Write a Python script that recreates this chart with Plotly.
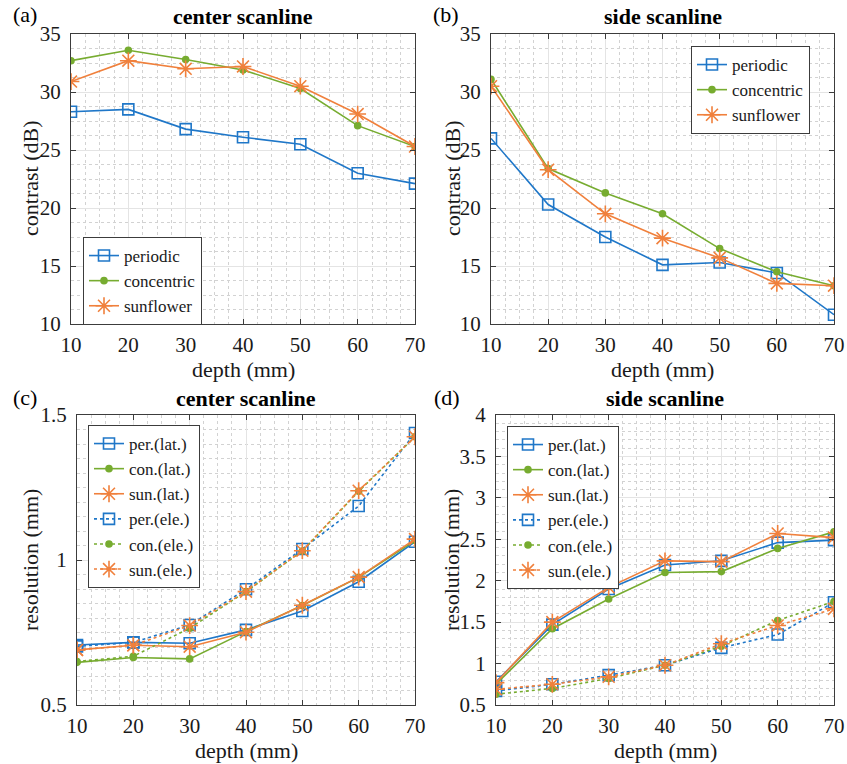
import plotly.graph_objects as go

# Depths of the scanline measurements (mm)
depth = [10, 20, 30, 40, 50, 60, 70]

# (a) contrast, center scanline (dB)
a_periodic = [28.3, 28.5, 26.8, 26.1, 25.5, 23.0, 22.1]
a_concentric = [32.7, 33.6, 32.8, 31.9, 30.3, 27.1, 25.3]
a_sunflower = [30.9, 32.7, 32.0, 32.2, 30.5, 28.1, 25.3]

# (b) contrast, side scanline (dB)
b_periodic = [26.0, 20.3, 17.5, 15.1, 15.3, 14.4, 10.8]
b_concentric = [31.1, 23.4, 21.3, 19.5, 16.5, 14.5, 13.3]
b_sunflower = [30.5, 23.3, 19.5, 17.4, 15.7, 13.5, 13.3]

# (c) resolution, center scanline (mm)
c_per_lat = [0.707, 0.716, 0.713, 0.759, 0.824, 0.925, 1.063]
c_con_lat = [0.647, 0.664, 0.659, 0.753, 0.843, 0.940, 1.067]
c_sun_lat = [0.690, 0.706, 0.701, 0.751, 0.844, 0.941, 1.072]
c_per_ele = [0.702, 0.716, 0.776, 0.899, 1.038, 1.186, 1.438]
c_con_ele = [0.650, 0.668, 0.765, 0.891, 1.031, 1.237, 1.425]
c_sun_ele = [0.690, 0.706, 0.774, 0.891, 1.032, 1.239, 1.425]

# (d) resolution, side scanline (mm)
d_per_lat = [0.78, 1.47, 1.90, 2.19, 2.24, 2.46, 2.49]
d_con_lat = [0.75, 1.42, 1.78, 2.10, 2.11, 2.39, 2.59]
d_sun_lat = [0.77, 1.50, 1.92, 2.24, 2.23, 2.57, 2.52]
d_per_ele = [0.67, 0.75, 0.86, 0.98, 1.19, 1.35, 1.74]
d_con_ele = [0.63, 0.70, 0.82, 0.98, 1.21, 1.52, 1.75]
d_sun_ele = [0.69, 0.75, 0.84, 0.98, 1.24, 1.46, 1.66]

W, H = 847, 764
FONT = "Times New Roman, Liberation Serif, serif"
TXT = "#1a1a1a"
AX = "#3c3c3c"

BLUE = "#1f77c8"
GREEN = "#77ac30"
ORANGE = "#f0803c"


def px_x(p):
    return p / W


def px_y(p):
    return 1 - p / H


# plot-area boxes in pixels: (left, right, top, bottom)
boxes = {
    1: (71, 415, 34, 324),
    2: (491, 834, 34, 324),
    3: (77, 415, 415, 705),
    4: (496, 834, 415, 705),
}

styles = {
    "per": dict(color=BLUE, symbol="square-open", size=11),
    "con": dict(color=GREEN, symbol="circle", size=6),
    "sun": dict(color=ORANGE, symbol="asterisk-open", size=14),
}

fig = go.Figure()


def add(idx, y, name, kind, dash, legend):
    s = styles[kind]
    fig.add_trace(go.Scatter(
        x=depth, y=y, name=name, mode="lines+markers",
        xaxis="x" if idx == 1 else f"x{idx}",
        yaxis="y" if idx == 1 else f"y{idx}",
        line=dict(color=s["color"], width=1.6, dash=dash),
        marker=dict(symbol=s["symbol"], size=s["size"], color=s["color"],
                    line=dict(color=s["color"], width=1.6)),
        legend=legend,
    ))


add(1, a_periodic, "periodic", "per", "solid", "legend")
add(1, a_concentric, "concentric", "con", "solid", "legend")
add(1, a_sunflower, "sunflower", "sun", "solid", "legend")

add(2, b_periodic, "periodic", "per", "solid", "legend2")
add(2, b_concentric, "concentric", "con", "solid", "legend2")
add(2, b_sunflower, "sunflower", "sun", "solid", "legend2")

add(3, c_per_lat, "per.(lat.)", "per", "solid", "legend3")
add(3, c_con_lat, "con.(lat.)", "con", "solid", "legend3")
add(3, c_sun_lat, "sun.(lat.)", "sun", "solid", "legend3")
add(3, c_per_ele, "per.(ele.)", "per", "dot", "legend3")
add(3, c_con_ele, "con.(ele.)", "con", "dot", "legend3")
add(3, c_sun_ele, "sun.(ele.)", "sun", "dot", "legend3")

add(4, d_per_lat, "per.(lat.)", "per", "solid", "legend4")
add(4, d_con_lat, "con.(lat.)", "con", "solid", "legend4")
add(4, d_sun_lat, "sun.(lat.)", "sun", "solid", "legend4")
add(4, d_per_ele, "per.(ele.)", "per", "dot", "legend4")
add(4, d_con_ele, "con.(ele.)", "con", "dot", "legend4")
add(4, d_sun_ele, "sun.(ele.)", "sun", "dot", "legend4")

yranges = {1: (10, 35, 5, 1.25), 2: (10, 35, 5, 1.25),
           3: (0.5, 1.5, 0.5, 0.05), 4: (0.5, 4, 0.5, 0.1)}

layout = dict(
    width=W, height=H,
    margin=dict(l=0, r=0, t=0, b=0, pad=0, autoexpand=False),
    paper_bgcolor="white", plot_bgcolor="white",
    font=dict(family=FONT, size=20, color=TXT),
)

common = dict(
    showline=True, linecolor=AX, linewidth=1, mirror="ticks",
    ticks="inside", ticklen=5, tickcolor=AX, tickwidth=1,
    showgrid=True, gridcolor="#e4e4e4", gridwidth=1, zeroline=False,
    automargin=False,
    tickfont=dict(family=FONT, size=21, color=TXT),
)

for i, (l, r, t, b) in boxes.items():
    xs = "xaxis" if i == 1 else f"xaxis{i}"
    ys = "yaxis" if i == 1 else f"yaxis{i}"
    anchor_x = "y" if i == 1 else f"y{i}"
    anchor_y = "x" if i == 1 else f"x{i}"
    lo, hi, dt, mdt = yranges[i]
    layout[xs] = dict(
        common, domain=[px_x(l), px_x(r)], anchor=anchor_x,
        range=[10, 70], tick0=10, dtick=10, ticklabelstandoff=2,
        minor=dict(tick0=10, dtick=2.5, showgrid=True, gridcolor="#d2d2d2",
                   griddash="dot", gridwidth=1, ticks=""),
    )
    layout[ys] = dict(
        common, domain=[px_y(b), px_y(t)], anchor=anchor_y,
        range=[lo, hi], tick0=lo, dtick=dt, ticklabelstandoff=5,
        minor=dict(tick0=lo, dtick=mdt, showgrid=True, gridcolor="#d2d2d2",
                   griddash="dot", gridwidth=1, ticks=""),
    )

legend_common = dict(
    bgcolor="white", bordercolor=AX, borderwidth=1,
    font=dict(family=FONT, size=17, color=TXT),
    xanchor="left", yanchor="top", tracegroupgap=0,
    itemsizing="trace",
)
layout["legend"] = dict(legend_common, x=px_x(83), y=px_y(237))
layout["legend2"] = dict(legend_common, x=px_x(691), y=px_y(46))
layout["legend3"] = dict(legend_common, x=px_x(88), y=px_y(425))
layout["legend4"] = dict(legend_common, x=px_x(507), y=px_y(426))

fig.update_layout(**layout)

titles = {1: "center scanline", 2: "side scanline",
          3: "center scanline", 4: "side scanline"}
labels = {1: "(a)", 2: "(b)", 3: "(c)", 4: "(d)"}
label_pos = {1: (25, 15), 2: (446, 15), 3: (25, 397), 4: (447, 397)}
ytitles = {1: "contrast (dB)", 2: "contrast (dB)",
           3: "resolution (mm)", 4: "resolution (mm)"}
ytitle_x = {1: 30, 2: 452, 3: 30, 4: 451}

for i, (l, r, t, b) in boxes.items():
    cx = (l + r) / 2
    fig.add_annotation(text=f"<b>{titles[i]}</b>", x=px_x(cx), y=px_y(t - 17),
                       xref="paper", yref="paper", showarrow=False,
                       xanchor="center", yanchor="middle",
                       font=dict(family=FONT, size=22, color="black"))
    lx, ly = label_pos[i]
    fig.add_annotation(text=labels[i], x=px_x(lx), y=px_y(ly),
                       xref="paper", yref="paper", showarrow=False,
                       xanchor="center", yanchor="middle",
                       font=dict(family=FONT, size=22, color="black"))
    fig.add_annotation(text="depth (mm)", x=px_x(cx), y=px_y(b + 45),
                       xref="paper", yref="paper", showarrow=False,
                       xanchor="center", yanchor="middle",
                       font=dict(family=FONT, size=22, color=TXT))
    fig.add_annotation(text=ytitles[i], x=px_x(ytitle_x[i]),
                       y=px_y((t + b) / 2), textangle=-90,
                       xref="paper", yref="paper", showarrow=False,
                       xanchor="center", yanchor="middle",
                       font=dict(family=FONT, size=22, color=TXT))

fig.write_html("out.html")
